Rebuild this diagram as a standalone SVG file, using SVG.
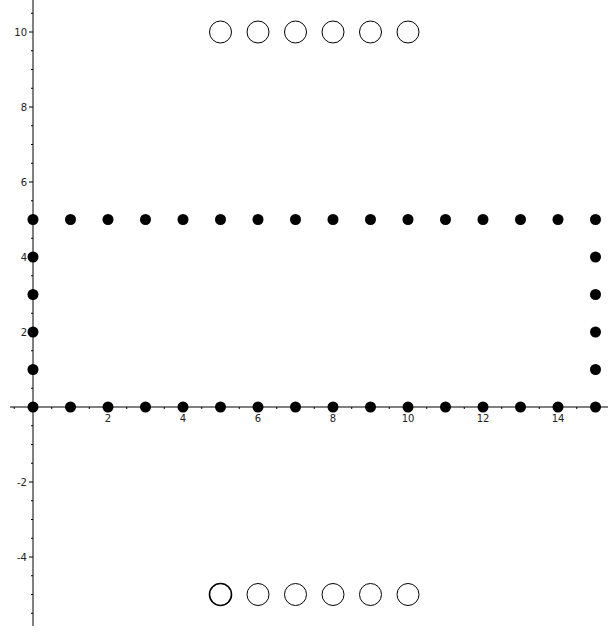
<svg xmlns="http://www.w3.org/2000/svg" width="608" height="632" viewBox="0 0 608 632">
<style>
.ax{stroke:#000;stroke-width:1;fill:none}
.tk{stroke:#000;stroke-width:1}
.lb{font-family:"DejaVu Sans",sans-serif;font-size:10px;fill:#222}
.dot{fill:#000}
.ring{fill:#fff;stroke:#000;stroke-width:1}
</style>
<rect width="608" height="632" fill="#fff"/>
<g id="axes">
<line class="ax" x1="10" y1="407" x2="608" y2="407"/>
<line class="ax" x1="33" y1="0" x2="33" y2="626"/>
<path class="tk" d="M14.25,407v2M51.75,407v2M89.25,407v2M126.75,407v2M164.25,407v2M201.75,407v2M239.25,407v2M276.75,407v2M314.25,407v2M351.75,407v2M389.25,407v2M426.75,407v2M464.25,407v2M501.75,407v2M539.25,407v2M576.75,407v2M70.5,407v2M145.5,407v2M220.5,407v2M295.5,407v2M370.5,407v2M445.5,407v2M520.5,407v2M595.5,407v2"/>
<path class="tk" d="M108,407v4M183,407v4M258,407v4M333,407v4M408,407v4M483,407v4M558,407v4"/>
<path class="tk" d="M33,13.25h-2M33,50.75h-2M33,69.5h-2M33,88.25h-2M33,125.75h-2M33,144.5h-2M33,163.25h-2M33,200.75h-2M33,219.5h-2M33,238.25h-2M33,275.75h-2M33,294.5h-2M33,313.25h-2M33,350.75h-2M33,369.5h-2M33,388.25h-2M33,425.75h-2M33,444.5h-2M33,463.25h-2M33,500.75h-2M33,519.5h-2M33,538.25h-2M33,575.75h-2M33,594.5h-2M33,613.25h-2"/>
<path class="tk" d="M33,32h-4M33,107h-4M33,182h-4M33,257h-4M33,332h-4M33,482h-4M33,557h-4"/>
<g class="lb" text-anchor="middle">
<text x="108" y="422">2</text><text x="183" y="422">4</text><text x="258" y="422">6</text><text x="333" y="422">8</text><text x="408" y="422">10</text><text x="483" y="422">12</text><text x="558" y="422">14</text>
</g>
<g class="lb" text-anchor="end">
<text x="27" y="35.5">10</text><text x="27" y="110.5">8</text><text x="27" y="185.5">6</text><text x="27" y="260.5">4</text><text x="27" y="335.5">2</text><text x="27" y="485.5">-2</text><text x="27" y="560.5">-4</text>
</g>
</g>
<g id="dots" class="dot">
<circle cx="33" cy="407" r="5.5"/><circle cx="70.5" cy="407" r="5.5"/><circle cx="108" cy="407" r="5.5"/><circle cx="145.5" cy="407" r="5.5"/><circle cx="183" cy="407" r="5.5"/><circle cx="220.5" cy="407" r="5.5"/><circle cx="258" cy="407" r="5.5"/><circle cx="295.5" cy="407" r="5.5"/><circle cx="333" cy="407" r="5.5"/><circle cx="370.5" cy="407" r="5.5"/><circle cx="408" cy="407" r="5.5"/><circle cx="445.5" cy="407" r="5.5"/><circle cx="483" cy="407" r="5.5"/><circle cx="520.5" cy="407" r="5.5"/><circle cx="558" cy="407" r="5.5"/><circle cx="595.5" cy="407" r="5.5"/>
<circle cx="33" cy="219.5" r="5.5"/><circle cx="70.5" cy="219.5" r="5.5"/><circle cx="108" cy="219.5" r="5.5"/><circle cx="145.5" cy="219.5" r="5.5"/><circle cx="183" cy="219.5" r="5.5"/><circle cx="220.5" cy="219.5" r="5.5"/><circle cx="258" cy="219.5" r="5.5"/><circle cx="295.5" cy="219.5" r="5.5"/><circle cx="333" cy="219.5" r="5.5"/><circle cx="370.5" cy="219.5" r="5.5"/><circle cx="408" cy="219.5" r="5.5"/><circle cx="445.5" cy="219.5" r="5.5"/><circle cx="483" cy="219.5" r="5.5"/><circle cx="520.5" cy="219.5" r="5.5"/><circle cx="558" cy="219.5" r="5.5"/><circle cx="595.5" cy="219.5" r="5.5"/>
<circle cx="33" cy="257" r="5.5"/><circle cx="33" cy="294.5" r="5.5"/><circle cx="33" cy="332" r="5.5"/><circle cx="33" cy="369.5" r="5.5"/>
<circle cx="595.5" cy="257" r="5.5"/><circle cx="595.5" cy="294.5" r="5.5"/><circle cx="595.5" cy="332" r="5.5"/><circle cx="595.5" cy="369.5" r="5.5"/>
</g>
<g id="rings" class="ring">
<circle cx="220.5" cy="32" r="11"/><circle cx="258" cy="32" r="11"/><circle cx="295.5" cy="32" r="11"/><circle cx="333" cy="32" r="11"/><circle cx="370.5" cy="32" r="11"/><circle cx="408" cy="32" r="11"/>
<circle cx="220.5" cy="594.5" r="11" stroke-width="1.6"/><circle cx="258" cy="594.5" r="11"/><circle cx="295.5" cy="594.5" r="11"/><circle cx="333" cy="594.5" r="11"/><circle cx="370.5" cy="594.5" r="11"/><circle cx="408" cy="594.5" r="11"/>
</g>
</svg>
